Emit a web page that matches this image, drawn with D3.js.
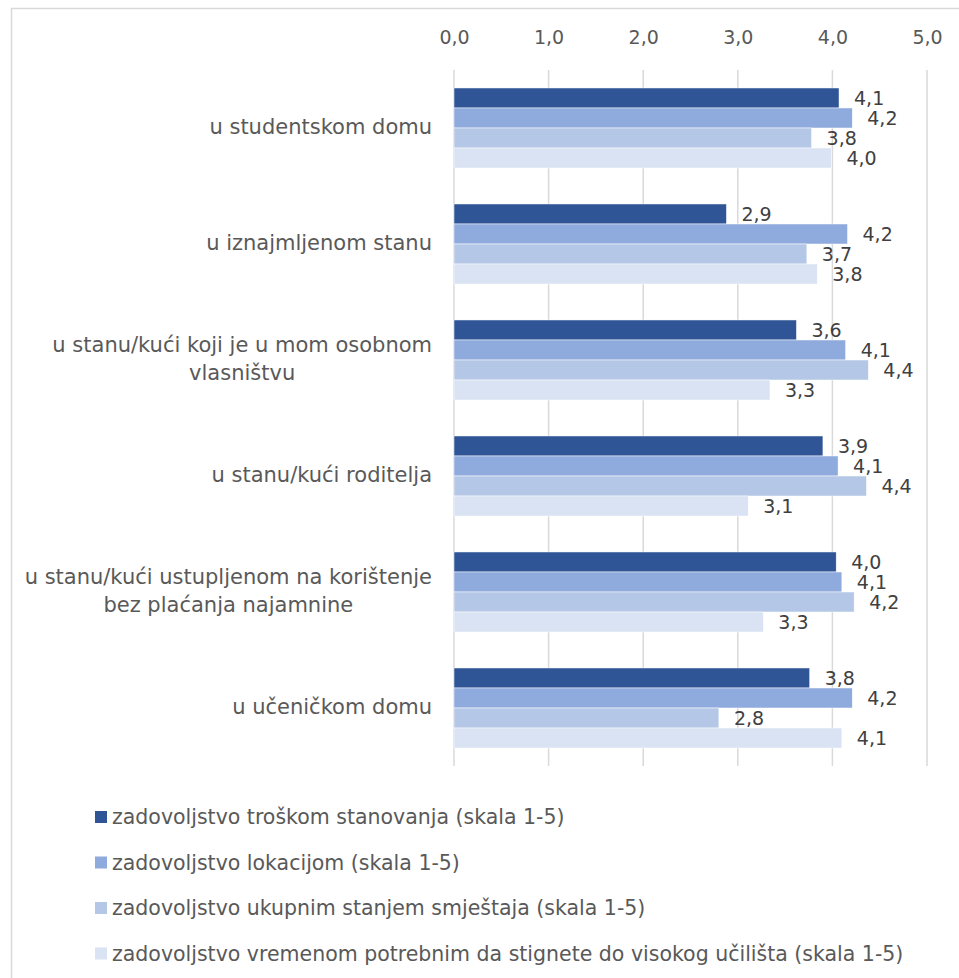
<!DOCTYPE html>
<meta charset="utf-8">
<style>
body { margin: 0; background: #fff; }
text { font-family: "DejaVu Sans", "Liberation Sans", sans-serif; fill: #595959; }
</style>
<svg width="959" height="978"></svg>
<script src="https://d3js.org/d3.v7.min.js"></script>
<script>
// categories (may be split in two lines)
var categories = [
  ["u studentskom domu"],
  ["u iznajmljenom stanu"],
  ["u stanu/kući koji je u mom osobnom", "vlasništvu"],
  ["u stanu/kući roditelja"],
  ["u stanu/kući ustupljenom na korištenje", "bez plaćanja najamnine"],
  ["u učeničkom domu"]
];

var seriesNames = [
  "zadovoljstvo troškom stanovanja (skala 1-5)",
  "zadovoljstvo lokacijom (skala 1-5)",
  "zadovoljstvo ukupnim stanjem smještaja (skala 1-5)",
  "zadovoljstvo vremenom potrebnim da stignete do visokog učilišta (skala 1-5)"
];

var trosak    = [4.07, 2.88, 3.62, 3.90, 4.04, 3.76];
var lokacija  = [4.21, 4.16, 4.14, 4.06, 4.10, 4.21];
var stanje    = [3.78, 3.73, 4.38, 4.36, 4.23, 2.80];
var vrijeme   = [3.99, 3.84, 3.34, 3.11, 3.27, 4.10];

var xTicks = [0, 1, 2, 3, 4, 5];

var colors = ["#2f5597", "#8faadc", "#b4c7e7", "#dae3f3"];

var series = [trosak, lokacija, stanje, vrijeme];

var svg = d3.select("svg");

// outer chart border
svg.append("rect")
  .attr("x", 11.5).attr("y", 8.5)
  .attr("width", 980).attr("height", 1000)
  .attr("fill", "none")
  .attr("stroke", "#d9d9d9")
  .attr("stroke-width", 1.5);

var locale = d3.formatLocale({decimal: ",", thousands: ".", grouping: [3], currency: ["", ""]});
var fmt = locale.format(".1f");

var x = d3.scaleLinear().domain([0, 5]).range([454, 927]);

var y = d3.scaleBand()
  .domain(d3.range(categories.length))
  .range([70, 766])
  .paddingInner(0.31)
  .paddingOuter(0.155);

var ySub = d3.scaleBand()
  .domain(d3.range(series.length))
  .range([0, y.bandwidth()]);

// gridlines
svg.append("g")
  .selectAll("line")
  .data(xTicks)
  .enter().append("line")
  .attr("x1", function(d) { return x(d); })
  .attr("x2", function(d) { return x(d); })
  .attr("y1", 70)
  .attr("y2", 766)
  .attr("stroke", "#d9d9d9")
  .attr("stroke-width", 1.5);

// top axis labels
var axis = svg.append("g")
  .attr("transform", "translate(0,44)")
  .call(d3.axisTop(x).tickValues(xTicks).tickSize(0).tickPadding(0).tickFormat(fmt));
axis.select(".domain").remove();
axis.selectAll("text")
  .attr("fill", "#595959")
  .style("font-size", "19px")
  .style("font-family", "DejaVu Sans, sans-serif");

// bars
var groups = svg.append("g")
  .selectAll("g")
  .data(categories)
  .enter().append("g")
  .attr("transform", function(d, i) { return "translate(0," + y(i) + ")"; });

groups.each(function(c, ci) {
  var g = d3.select(this);
  series.forEach(function(s, si) {
    g.append("rect")
      .attr("x", x(0))
      .attr("y", ySub(si))
      .attr("width", x(s[ci]) - x(0))
      .attr("height", ySub.bandwidth())
      .attr("fill", colors[si])
      .attr("stroke", "#fff")
      .attr("stroke-width", 0.5);
    g.append("text")
      .attr("x", x(s[ci]) + 15)
      .attr("y", ySub(si) + ySub.bandwidth() / 2)
      .attr("dy", "0.36em")
      .style("font-size", "19px")
      .style("fill", "#404040")
      .text(fmt(s[ci]));
  });
});

// category labels
svg.append("g")
  .selectAll("text")
  .data(categories)
  .enter().append("text")
  .style("font-size", "21px")
  .each(function(lines, i) {
    var t = d3.select(this);
    var cy = y(i) + y.bandwidth() / 2 - 1;
    var lh = 28;
    var y0 = cy - (lines.length - 1) * lh / 2;
    lines.forEach(function(l, li) {
      t.append("tspan")
        .attr("x", 0)
        .attr("y", y0 + li * lh)
        .attr("dy", "0.35em")
        .text(l);
    });
    // centre lines in a block right-aligned at 432
    var w = this.getBBox().width;
    var cx = 432 - w / 2;
    t.attr("text-anchor", "middle").selectAll("tspan").attr("x", cx);
  });

// legend
var legend = svg.append("g")
  .selectAll("g")
  .data(seriesNames)
  .enter().append("g")
  .attr("transform", function(d, i) { return "translate(95," + (817 + i * 45.5) + ")"; });

legend.append("rect")
  .attr("x", 0).attr("y", -6)
  .attr("width", 12).attr("height", 12)
  .attr("fill", function(d, i) { return colors[i]; });

legend.append("text")
  .attr("x", 17)
  .attr("dy", "0.35em")
  .style("font-size", "20.5px")
  .text(function(d) { return d; });
</script>
